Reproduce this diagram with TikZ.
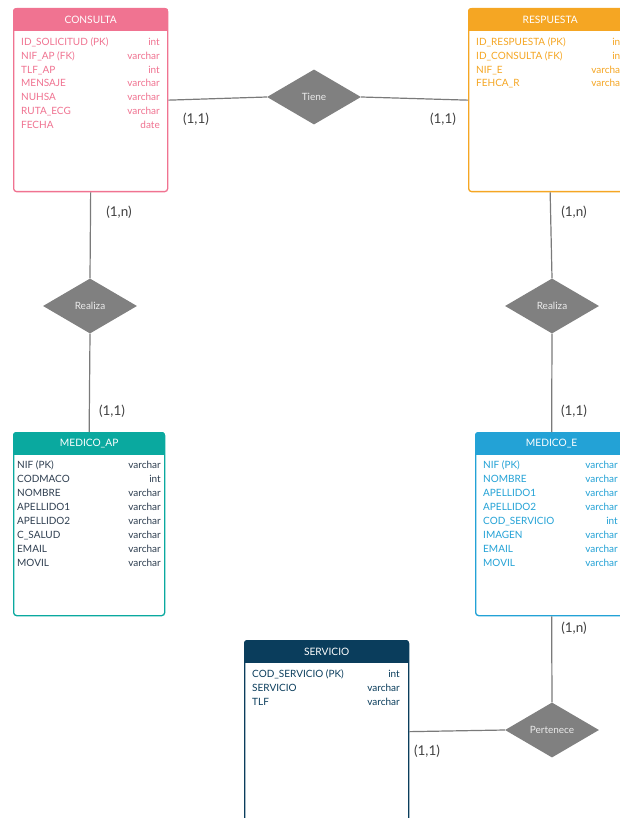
\documentclass[tikz,border=0pt]{standalone}
\usepackage{fontspec}
\setmainfont{Lato}
\usetikzlibrary{shapes.geometric}

\definecolor{rosa}{HTML}{F07391}
\definecolor{naranja}{HTML}{F5A623}
\definecolor{verdeazul}{HTML}{0AA99F}
\definecolor{azul}{HTML}{23A2D6}
\definecolor{marino}{HTML}{0A3D5C}
\definecolor{textoap}{HTML}{2E3E50}
\definecolor{gris}{HTML}{7A7A7A}
\definecolor{rombo}{HTML}{808080}

\tikzset{
  tabla/.style={draw=#1, line width=1.3pt, rounded corners=3pt, anchor=north west, inner sep=0pt, fill=white},
  titulo/.style={text=white, inner sep=0pt, font=\fontsize{10.2}{11}\selectfont},
  campo/.style={anchor=base west, inner sep=0pt, font=\fontsize{10}{11}\selectfont},
  tipo/.style={anchor=base east, inner sep=0pt, font=\fontsize{10}{11}\selectfont},
  rel/.style={diamond, fill=rombo, minimum width=94pt, minimum height=55pt, inner sep=0pt, text=white!92!black, font=\fontsize{10}{11}\selectfont},
  card/.style={text=black!75, inner sep=0pt, font=\fontsize{13.5}{14}\selectfont},
  conector/.style={draw=gris, line width=1.2pt}
}

\begin{document}
\begin{tikzpicture}[x=1pt, y=-1pt]
  \useasboundingbox (0,0) rectangle (620,818);
  \clip (0,0) rectangle (620,818);
  % conectores primero, las tablas los tapan
  \node[rel] (tiene) at (314,97) {Tiene};
  \node[rel] (realizaAP) at (90,306) {Realiza};
  \node[rel] (realizaE) at (552,306) {Realiza};
  \node[rel] (pertenece) at (552,730) {Pertenece};
  % tablas
  \node[tabla=rosa, minimum width=154pt, minimum height=183pt] (consulta) at (13,8) {};
  \node[tabla=naranja, minimum width=163pt, minimum height=183pt] (respuesta) at (468,8) {};
  \node[tabla=verdeazul, minimum width=151pt, minimum height=183pt] (medicoAP) at (13,432) {};
  \node[tabla=azul, minimum width=152pt, minimum height=183pt] (medicoE) at (475,432) {};
  \node[tabla=marino, minimum width=164pt, minimum height=182pt] (servicio) at (244,640) {};
  \foreach \t/\c/\nombre in {consulta/rosa/CONSULTA, respuesta/naranja/RESPUESTA,
      medicoAP/verdeazul/MEDICO\_AP, medicoE/azul/MEDICO\_E, servicio/marino/SERVICIO} {
    \begin{scope}
      \clip[rounded corners=3pt] (\t.north west) rectangle (\t.south east);
      \fill[\c] (\t.north west) rectangle ([yshift=-23pt]\t.north east);
    \end{scope}
    \node[titulo] (\t-n) at ([yshift=-11.5pt]\t.north) {\nombre};
  }
  % campos
  \foreach \campo/\tipo [count=\i] in {ID\_SOLICITUD (PK)/int, NIF\_AP (FK)/varchar, TLF\_AP/int,
      MENSAJE/varchar, NUHSA/varchar, RUTA\_ECG/varchar, FECHA/date} {
    \node[campo, text=rosa] (consulta-c\i) at (21, {45.5+13.8*(\i-1)}) {\campo};
    \node[tipo, text=rosa] (consulta-t\i) at (160, {45.5+13.8*(\i-1)}) {\tipo};
  }
  \foreach \campo/\tipo [count=\i] in {ID\_RESPUESTA (PK)/int, ID\_CONSULTA (FK)/int,
      NIF\_E/varchar, FEHCA\_R/varchar} {
    \node[campo, text=naranja] (respuesta-c\i) at (476, {45.5+13.8*(\i-1)}) {\campo};
    \node[tipo, text=naranja] (respuesta-t\i) at (624, {45.5+13.8*(\i-1)}) {\tipo};
  }
  \foreach \campo/\tipo [count=\i] in {NIF (PK)/varchar, CODMACO/int, NOMBRE/varchar, APELLIDO1/varchar,
      APELLIDO2/varchar, C\_SALUD/varchar, EMAIL/varchar, MOVIL/varchar} {
    \node[campo, text=textoap] (medicoAP-c\i) at (17, {468.5+14*(\i-1)}) {\campo};
    \node[tipo, text=textoap] (medicoAP-t\i) at (161, {468.5+14*(\i-1)}) {\tipo};
  }
  \foreach \campo/\tipo [count=\i] in {NIF (PK)/varchar, NOMBRE/varchar, APELLIDO1/varchar, APELLIDO2/varchar,
      COD\_SERVICIO/int, IMAGEN/varchar, EMAIL/varchar, MOVIL/varchar} {
    \node[campo, text=azul] (medicoE-c\i) at (483, {468.5+14*(\i-1)}) {\campo};
    \node[tipo, text=azul] (medicoE-t\i) at (618, {468.5+14*(\i-1)}) {\tipo};
  }
  \foreach \campo/\tipo [count=\i] in {COD\_SERVICIO (PK)/int, SERVICIO/varchar, TLF/varchar} {
    \node[campo, text=marino] (servicio-c\i) at (252, {677.5+14*(\i-1)}) {\campo};
    \node[tipo, text=marino] (servicio-t\i) at (400, {677.5+14*(\i-1)}) {\tipo};
  }
  % relaciones
  \draw[conector] (consulta.east) -- (tiene.west);
  \draw[conector] (tiene.east) -- (respuesta.west);
  \draw[conector] (consulta.south) -- (realizaAP.north);
  \draw[conector] (realizaAP.south) -- (medicoAP.north);
  \draw[conector] (respuesta.south) -- (realizaE.north);
  \draw[conector] (realizaE.south) -- (medicoE.north);
  \draw[conector] (medicoE.south) -- (pertenece.north);
  \draw[conector] (pertenece.west) -- (servicio.east);
  % cardinalidades
  \node[card] (k1) at (196,119) {(1,1)};
  \node[card] (k2) at (443,119) {(1,1)};
  \node[card] (k3) at (119,212) {(1,n)};
  \node[card] (k4) at (112,411) {(1,1)};
  \node[card] (k5) at (574,212) {(1,n)};
  \node[card] (k6) at (574,411) {(1,1)};
  \node[card] (k7) at (574,628) {(1,n)};
  \node[card] (k8) at (427,751) {(1,1)};
\end{tikzpicture}
\end{document}
